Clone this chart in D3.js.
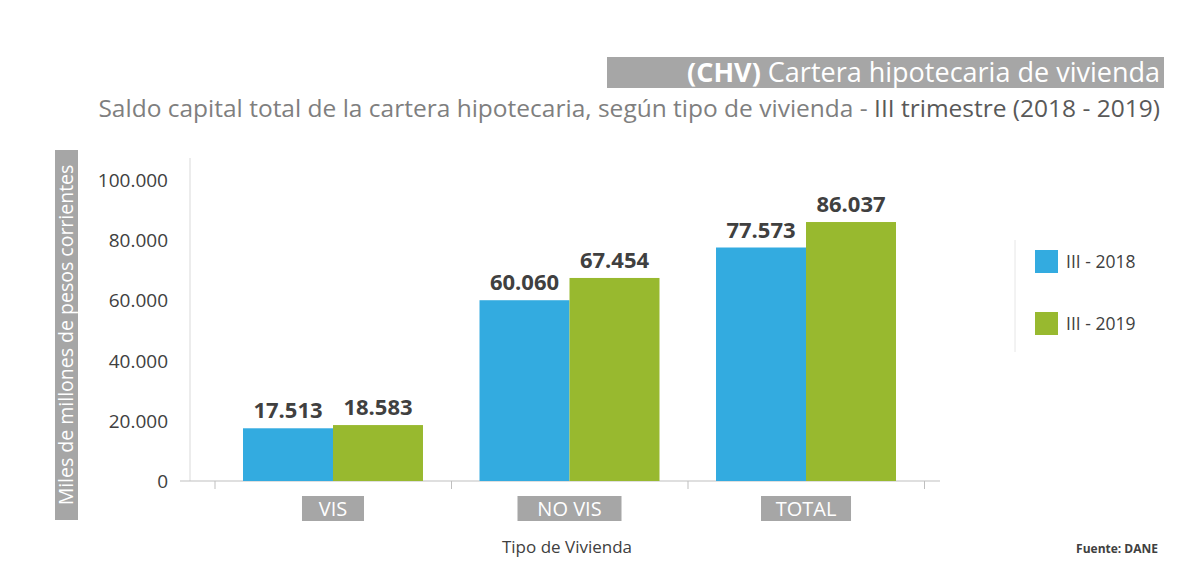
<!DOCTYPE html>
<html><head><meta charset="utf-8">
<script src="https://cdn.jsdelivr.net/npm/d3@7"></script>
<style>body{margin:0;background:#fff;font-family:"Open Sans",sans-serif}</style>
</head><body><svg id="c" width="1192" height="576"></svg>
<script>
const categories = ["VIS", "NO VIS", "TOTAL"];
const seriesNames = ["III - 2018", "III - 2019"];
const values2018 = [17513, 60060, 77573];
const values2019 = [18583, 67454, 86037];
const yTicks = [0, 20000, 40000, 60000, 80000, 100000];
const colors = ["#33abe0", "#98b92f"];

const svg = d3.select("#c");
const fmt = d3.formatLocale({decimal: ",", thousands: ".", grouping: [3], currency: ["", ""]}).format(",d");

// title
svg.append("rect").attr("x", 607).attr("y", 57).attr("width", 557).attr("height", 31).attr("fill", "#a6a6a6");
const t = svg.append("text").attr("x", 1160).attr("y", 82).attr("text-anchor", "end")
  .attr("fill", "#fff").attr("font-size", 27);
t.append("tspan").attr("font-weight", "bold").text("(CHV)");
t.append("tspan").text(" Cartera hipotecaria de vivienda");
const st = svg.append("text").attr("x", 1160).attr("y", 117).attr("text-anchor", "end")
  .attr("fill", "#7f7f7f").attr("font-size", 24.5);
st.append("tspan").text("Saldo capital total de la cartera hipotecaria, según tipo de vivienda - ");
st.append("tspan").attr("fill", "#595959").text("III trimestre (2018 - 2019)");

const y = d3.scaleLinear().domain([0, 100000]).range([481, 180]);
const x0 = d3.scaleBand().domain(categories).range([243, 896]).paddingInner(0.239).paddingOuter(0);
const x1 = d3.scaleBand().domain(seriesNames).range([0, x0.bandwidth()]);

// axes
svg.append("line").attr("x1", 190).attr("x2", 190).attr("y1", 158).attr("y2", 481).attr("stroke", "#d9d9d9");
svg.append("line").attr("x1", 180).attr("x2", 940).attr("y1", 481).attr("y2", 481).attr("stroke", "#bfbfbf");
svg.selectAll(".yt").data(yTicks).join("text")
  .attr("x", 168).attr("y", d => y(d) + 7).attr("text-anchor", "end")
  .attr("fill", "#404040").attr("font-size", 19).text(d => fmt(d));
svg.selectAll(".tk").data(d3.range(4)).join("line")
  .attr("x1", (d, i) => 215 + i * 236.5).attr("x2", (d, i) => 215 + i * 236.5)
  .attr("y1", 481).attr("y2", 489).attr("stroke", "#bfbfbf");

// y label
svg.append("rect").attr("x", 55).attr("y", 150).attr("width", 23).attr("height", 370).attr("fill", "#a6a6a6");
svg.append("text").attr("transform", "translate(73,335) rotate(-90)").attr("text-anchor", "middle")
  .attr("fill", "#fff").attr("font-size", 19.5).text("Miles de millones de pesos corrientes");

// bars
const data = categories.map((c, i) => ({c, v: [values2018[i], values2019[i]]}));
const g = svg.selectAll(".grp").data(data).join("g").attr("transform", d => `translate(${x0(d.c)},0)`);
g.selectAll("rect").data(d => d.v.map((v, i) => ({v, s: seriesNames[i], i}))).join("rect")
  .attr("x", d => x1(d.s)).attr("width", x1.bandwidth())
  .attr("y", d => y(d.v)).attr("height", d => 481 - y(d.v)).attr("fill", d => colors[d.i]);
g.selectAll(".lbl").data(d => d.v.map((v, i) => ({v, s: seriesNames[i]}))).join("text")
  .attr("x", d => x1(d.s) + x1.bandwidth() / 2).attr("y", d => y(d.v) - 10).attr("text-anchor", "middle")
  .attr("fill", "#404040").attr("font-size", 22).attr("font-weight", "bold").text(d => fmt(d.v));

// category labels
categories.forEach(c => {
  const cx = x0(c) + x0.bandwidth() / 2;
  const w = c.length * 14 + 20;
  svg.append("rect").attr("x", cx - w / 2).attr("y", 496).attr("width", w).attr("height", 25).attr("fill", "#a6a6a6");
  svg.append("text").attr("x", cx).attr("y", 516).attr("text-anchor", "middle").attr("fill", "#fff")
    .attr("font-size", 20).text(c);
});
svg.append("text").attr("x", 567).attr("y", 553).attr("text-anchor", "middle").attr("fill", "#404040")
  .attr("font-size", 17).text("Tipo de Vivienda");

// legend
svg.append("line").attr("x1", 1015).attr("x2", 1015).attr("y1", 240).attr("y2", 352).attr("stroke", "#e6e6e6");
seriesNames.forEach((s, i) => {
  svg.append("rect").attr("x", 1035).attr("y", 250 + i * 62).attr("width", 23).attr("height", 23).attr("fill", colors[i]);
  svg.append("text").attr("x", 1066).attr("y", 268 + i * 62).attr("fill", "#404040").attr("font-size", 17.5).text(s);
});
svg.append("text").attr("x", 1158).attr("y", 553).attr("text-anchor", "end").attr("fill", "#404040")
  .attr("font-size", 12).attr("font-weight", "bold").text("Fuente: DANE");
</script></body></html>
